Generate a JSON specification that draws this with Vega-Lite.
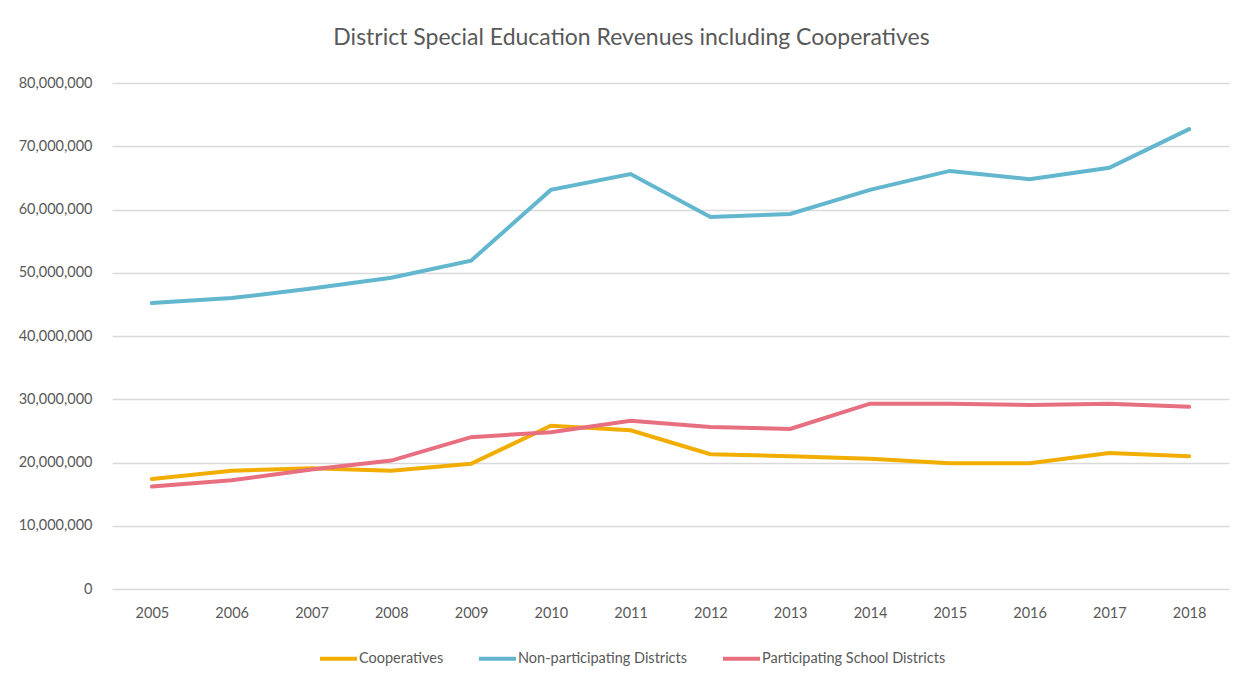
{
  "$schema": "https://vega.github.io/schema/vega-lite/v6.json",
  "autosize": "none",
  "width": 1117,
  "height": 506,
  "padding": {"left": 112, "top": 83, "right": 21, "bottom": 92},
  "background": "white",
  "title": {
    "text": "District Special Education Revenues including Cooperatives",
    "font": "Lato",
    "fontSize": 23,
    "fontWeight": "normal",
    "color": "#595959",
    "anchor": "middle",
    "dx": -39,
    "offset": 25
  },
  "data": {
    "values": [
      {"year": "2005", "series": "Cooperatives", "value": 17400000},
      {"year": "2006", "series": "Cooperatives", "value": 18700000},
      {"year": "2007", "series": "Cooperatives", "value": 19100000},
      {"year": "2008", "series": "Cooperatives", "value": 18700000},
      {"year": "2009", "series": "Cooperatives", "value": 19800000},
      {"year": "2010", "series": "Cooperatives", "value": 25800000},
      {"year": "2011", "series": "Cooperatives", "value": 25100000},
      {"year": "2012", "series": "Cooperatives", "value": 21300000},
      {"year": "2013", "series": "Cooperatives", "value": 21000000},
      {"year": "2014", "series": "Cooperatives", "value": 20600000},
      {"year": "2015", "series": "Cooperatives", "value": 19900000},
      {"year": "2016", "series": "Cooperatives", "value": 19900000},
      {"year": "2017", "series": "Cooperatives", "value": 21500000},
      {"year": "2018", "series": "Cooperatives", "value": 21000000},
      {"year": "2005", "series": "Non-participating Districts", "value": 45200000},
      {"year": "2006", "series": "Non-participating Districts", "value": 46000000},
      {"year": "2007", "series": "Non-participating Districts", "value": 47500000},
      {"year": "2008", "series": "Non-participating Districts", "value": 49200000},
      {"year": "2009", "series": "Non-participating Districts", "value": 51900000},
      {"year": "2010", "series": "Non-participating Districts", "value": 63100000},
      {"year": "2011", "series": "Non-participating Districts", "value": 65600000},
      {"year": "2012", "series": "Non-participating Districts", "value": 58800000},
      {"year": "2013", "series": "Non-participating Districts", "value": 59300000},
      {"year": "2014", "series": "Non-participating Districts", "value": 63100000},
      {"year": "2015", "series": "Non-participating Districts", "value": 66100000},
      {"year": "2016", "series": "Non-participating Districts", "value": 64800000},
      {"year": "2017", "series": "Non-participating Districts", "value": 66600000},
      {"year": "2018", "series": "Non-participating Districts", "value": 72700000},
      {"year": "2005", "series": "Participating School Districts", "value": 16200000},
      {"year": "2006", "series": "Participating School Districts", "value": 17200000},
      {"year": "2007", "series": "Participating School Districts", "value": 18900000},
      {"year": "2008", "series": "Participating School Districts", "value": 20300000},
      {"year": "2009", "series": "Participating School Districts", "value": 24000000},
      {"year": "2010", "series": "Participating School Districts", "value": 24800000},
      {"year": "2011", "series": "Participating School Districts", "value": 26600000},
      {"year": "2012", "series": "Participating School Districts", "value": 25600000},
      {"year": "2013", "series": "Participating School Districts", "value": 25300000},
      {"year": "2014", "series": "Participating School Districts", "value": 29300000},
      {"year": "2015", "series": "Participating School Districts", "value": 29300000},
      {"year": "2016", "series": "Participating School Districts", "value": 29100000},
      {"year": "2017", "series": "Participating School Districts", "value": 29300000},
      {"year": "2018", "series": "Participating School Districts", "value": 28800000}
    ]
  },
  "mark": {"type": "line", "strokeWidth": 4, "strokeCap": "round", "strokeJoin": "miter"},
  "encoding": {
    "x": {
      "field": "year",
      "type": "ordinal",
      "scale": {"type": "point", "padding": 0.5},
      "axis": {
        "title": null,
        "labelAngle": 0,
        "labelFont": "Lato",
        "labelFontSize": 14.5,
        "labelColor": "#595959",
        "labelPadding": 17,
        "ticks": false,
        "domain": false,
        "grid": false
      }
    },
    "y": {
      "field": "value",
      "type": "quantitative",
      "scale": {"domain": [0, 80000000], "nice": false},
      "axis": {
        "title": null,
        "values": [0, 10000000, 20000000, 30000000, 40000000, 50000000, 60000000, 70000000, 80000000],
        "format": ",.0f",
        "labelFont": "Lato",
        "labelFontSize": 14.5,
        "labelColor": "#595959",
        "labelPadding": 20,
        "ticks": false,
        "domain": false,
        "grid": true,
        "gridColor": "#d9d9d9",
        "gridWidth": 1.3
      }
    },
    "color": {
      "field": "series",
      "type": "nominal",
      "scale": {
        "domain": ["Cooperatives", "Non-participating Districts", "Participating School Districts"],
        "range": ["#F2AE00", "#62B7CF", "#E76F80"]
      },
      "legend": {
        "title": null,
        "orient": "none",
        "direction": "horizontal",
        "legendX": 206,
        "legendY": 555,
        "symbolType": "stroke",
        "symbolSize": 1369,
        "symbolStrokeWidth": 4,
        "labelFont": "Lato",
        "labelFontSize": 14.5,
        "labelColor": "#595959",
        "labelOffset": 0,
        "columnPadding": 27,
        "labelLimit": 400
      }
    }
  },
  "config": {"view": {"stroke": null}}
}
